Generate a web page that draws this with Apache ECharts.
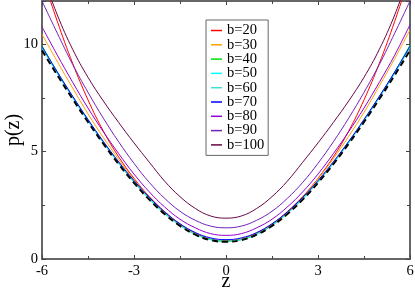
<!DOCTYPE html>
<html>
<head>
<meta charset="utf-8">
<script src="https://cdn.jsdelivr.net/npm/echarts@6/dist/echarts.min.js"></script>
<style>html,body{margin:0;padding:0;background:#fff}#c{width:415px;height:288px}</style>
</head>
<body>
<div id="c"></div>
<script>
const zValues = [-6,-5.5,-5,-4.5,-4,-3.5,-3,-2.5,-2,-1.5,-1,-0.5,0,0.5,1,1.5,2,2.5,3,3.5,4,4.5,5,5.5,6];
const xTicks = [-6,-3,0,3,6];
const yTicks = [0,5,10];
const seriesNames = ['b=20','b=30','b=40','b=50','b=60','b=70','b=80','b=90','b=100'];
const b20  = [13.2,11.05,9.10,7.40,5.95,4.75,3.75,2.90,2.20,1.62,1.20,0.93,0.85,0.93,1.20,1.62,2.20,2.90,3.75,4.75,5.95,7.40,9.10,11.05,13.2];
const b30  = [10.45,9.18,7.95,6.75,5.65,4.63,3.70,2.88,2.17,1.60,1.17,0.91,0.83,0.91,1.17,1.60,2.17,2.88,3.72,4.66,5.70,6.82,8.05,9.32,10.65];
const b40  = [9.92,8.69,7.55,6.46,5.44,4.48,3.60,2.81,2.13,1.58,1.16,0.91,0.83,0.91,1.16,1.58,2.13,2.81,3.60,4.48,5.44,6.46,7.55,8.69,9.95];
const b50  = [9.86,8.65,7.52,6.44,5.42,4.46,3.58,2.80,2.12,1.57,1.15,0.90,0.82,0.90,1.15,1.57,2.12,2.80,3.58,4.46,5.42,6.44,7.52,8.65,9.88];
const b60  = [9.82,8.62,7.50,6.42,5.40,4.45,3.57,2.79,2.11,1.56,1.15,0.90,0.82,0.90,1.15,1.56,2.11,2.79,3.57,4.45,5.40,6.42,7.50,8.62,9.84];
const b70  = [9.88,8.70,7.57,6.49,5.47,4.52,3.65,2.87,2.19,1.64,1.23,0.98,0.90,0.98,1.23,1.64,2.19,2.87,3.65,4.52,5.47,6.49,7.57,8.70,9.90];
const b80  = [10.80,9.48,8.22,7.02,5.92,4.90,3.95,3.12,2.42,1.85,1.45,1.18,1.10,1.18,1.45,1.85,2.42,3.12,3.95,4.90,5.92,7.02,8.22,9.48,10.90];
const b90  = [12.0,10.50,9.05,7.75,6.55,5.45,4.45,3.56,2.82,2.22,1.80,1.53,1.45,1.53,1.80,2.22,2.82,3.56,4.45,5.45,6.55,7.75,9.05,10.50,12.0];
const b100 = [13.3,11.35,9.75,8.45,7.35,6.35,5.40,4.50,3.62,2.90,2.35,2.00,1.90,2.00,2.35,2.90,3.62,4.50,5.40,6.35,7.35,8.45,9.75,11.35,13.3];
const limitCurve = [9.70,8.55,7.44,6.37,5.36,4.41,3.54,2.76,2.09,1.54,1.13,0.88,0.80,0.88,1.13,1.54,2.09,2.76,3.54,4.41,5.36,6.37,7.44,8.55,9.70];

const allValues = [b20,b30,b40,b50,b60,b70,b80,b90,b100];
const colors = ['#ff0000','#ffa500','#00e000','#00ffff','#40e0d0','#0000ff','#9400d3','#7221bc','#670748'];

const pair = arr => zValues.map((z,i)=>[z,arr[i]]);
const series = allValues.map((v,i)=>({
  name: seriesNames[i], type:'line', data: pair(v), smooth:0.4, symbol:'none',
  lineStyle:{color:colors[i], width:1}, itemStyle:{color:colors[i]}, xAxisIndex:0, yAxisIndex:0
}));
series.push({
  name:'limit', type:'line', data: pair(limitCurve), smooth:0.4, symbol:'none',
  lineStyle:{color:'#000', width:2, type:[6,4]}, xAxisIndex:0, yAxisIndex:0
});

const font = 'Liberation Serif';
const axisLineStyle = {onZero:false, lineStyle:{color:'#666', width:2}};
const tickStyle = {inside:true, length:4, lineStyle:{color:'#444'}};
const minorStyle = {show:true, splitNumber:2, length:3, lineStyle:{color:'#444'}};
const chart = echarts.init(document.getElementById('c'), null, {renderer:'canvas'});
chart.setOption({
  animation:false,
  backgroundColor:'#fff',
  grid:{left:42, right:5, top:1, bottom:29, containLabel:false, outerBoundsMode:'none'},
  legend:{
    data: seriesNames, orient:'vertical', left:206, top:20,
    backgroundColor:'#fff', borderColor:'#666', borderWidth:1, padding:[3,4,3,5],
    icon:'rect', itemWidth:11, itemHeight:1.5, itemGap:-0.7,
    textStyle:{fontFamily:font, fontSize:14.5, color:'#000'}
  },
  xAxis:[{
    type:'value', min:-6, max:6, interval:3, position:'bottom',
    name:'z', nameLocation:'middle', nameGap:13, nameMoveOverlap:false,
    nameTextStyle:{fontFamily:font, fontSize:20, color:'#000'},
    axisLine:axisLineStyle, axisTick:tickStyle, minorTick:minorStyle,
    axisLabel:{fontFamily:font, fontSize:14.5, color:'#000', margin:5, customValues:xTicks},
    splitLine:{show:false}
  },{
    type:'value', min:-6, max:6, interval:3, position:'top',
    axisLine:axisLineStyle, axisTick:tickStyle, minorTick:minorStyle,
    axisLabel:{show:false}, splitLine:{show:false}
  }],
  yAxis:[{
    type:'value', min:0, max:12, interval:5, position:'left',
    name:'p(z)', nameLocation:'middle', nameGap:18, nameMoveOverlap:false,
    nameTextStyle:{fontFamily:font, fontSize:20, color:'#000'},
    axisLine:axisLineStyle, axisTick:tickStyle, minorTick:minorStyle,
    axisLabel:{fontFamily:font, fontSize:14.5, color:'#000', margin:4, customValues:yTicks},
    splitLine:{show:false}
  },{
    type:'value', min:0, max:12, interval:5, position:'right',
    axisLine:axisLineStyle, axisTick:tickStyle, minorTick:minorStyle,
    axisLabel:{show:false}, splitLine:{show:false}
  }],
  series: series
});
</script>
</body>
</html>
